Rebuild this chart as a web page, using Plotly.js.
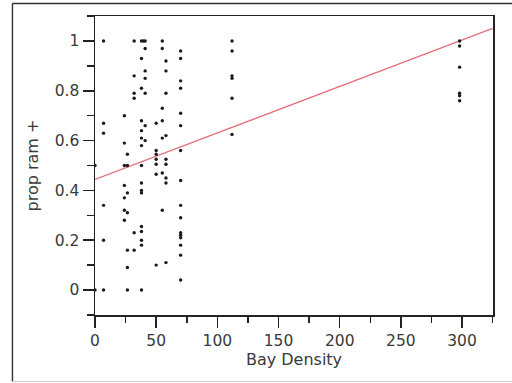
<!DOCTYPE html>
<html>
<head>
<meta charset="utf-8">
<script src="https://cdn.plot.ly/plotly-3.0.1.min.js"></script>
<style>
  html, body { margin: 0; padding: 0; background: #fff; }
  #chart { width: 512px; height: 383px; }
</style>
</head>
<body>
<div id="chart"></div>
<script>
// Observations: Bay Density (x) and proportion ram + (y)
const bayDensity = [
  0, 0,
  7, 7, 7, 7, 7, 7,
  24, 24, 24, 24, 24, 24, 24,
  26.5, 26.5, 26.5, 26.5, 26.5, 26.5, 26.5,
  32, 32, 32, 32, 32, 32,
  38, 38, 38, 38, 38, 38, 38, 38, 38, 38, 38, 38, 38, 38, 38, 38,
  39.5,
  41, 41, 41, 41, 41, 41, 41,
  50, 50, 50, 50, 50, 50, 50,
  55, 55, 55, 55, 55, 55, 55,
  58, 58, 58, 58, 58, 58, 58, 58, 58,
  70, 70, 70, 70, 70, 70, 70, 70, 70, 70, 70, 70, 70, 70, 70, 70,
  112, 112, 112, 112, 112, 112,
  298, 298, 298, 298, 298, 298
];
const propRam = [
  0.5, 0,
  1.0, 0.67, 0.63, 0.34, 0.20, 0,
  0.70, 0.59, 0.50, 0.42, 0.37, 0.32, 0.28,
  0.545, 0.50, 0.39, 0.31, 0.16, 0.09, 0,
  1.0, 0.86, 0.79, 0.77, 0.23, 0.16,
  1.0, 0.93, 0.81, 0.68, 0.64, 0.61, 0.58, 0.50, 0.43, 0.40, 0.39, 0.255, 0.235, 0.20, 0.18, 0,
  1.0,
  1.0, 0.97, 0.88, 0.85, 0.79, 0.66, 0.60,
  0.67, 0.56, 0.545, 0.525, 0.505, 0.465, 0.10,
  1.0, 0.97, 0.73, 0.68, 0.61, 0.47, 0.32,
  0.92, 0.88, 0.79, 0.62, 0.525, 0.505, 0.45, 0.43, 0.11,
  0.96, 0.93, 0.84, 0.81, 0.71, 0.66, 0.56, 0.44, 0.34, 0.29, 0.23, 0.22, 0.21, 0.18, 0.14, 0.04,
  1.0, 0.96, 0.86, 0.85, 0.77, 0.625,
  1.0, 0.98, 0.895, 0.79, 0.78, 0.76
];
// Fitted line endpoints
const fitX = [0, 325];
const fitY = [0.444, 1.051];

const xTitle = 'Bay Density';
const yTitle = 'prop ram +';

const fontFamily = '"DejaVu Sans", "Liberation Sans", Arial, sans-serif';
const axisColor = '#222';

const traces = [
  {
    x: fitX, y: fitY, type: 'scatter', mode: 'lines',
    line: { color: '#e4707c', width: 1.4 },
    hoverinfo: 'skip', showlegend: false
  },
  {
    x: bayDensity, y: propRam, type: 'scatter', mode: 'markers',
    marker: { color: '#1a1a1a', size: 3.4, symbol: 'circle' },
    showlegend: false
  }
];

const commonAxis = {
  showline: true, linecolor: axisColor, linewidth: 1.5, mirror: true,
  showgrid: false, zeroline: false,
  ticks: 'outside', ticklen: 11, tickwidth: 1.5, tickcolor: axisColor,
  tickfont: { family: fontFamily, size: 15.5, color: '#3a3a3a' },
  fixedrange: true
};

const layout = {
  width: 512, height: 383,
  margin: { l: 95, r: 19, t: 16, b: 68 },
  paper_bgcolor: '#fff', plot_bgcolor: '#fff',
  font: { family: fontFamily, color: '#3a3a3a' },
  xaxis: Object.assign({}, commonAxis, {
    range: [0, 325.3],
    tick0: 0, dtick: 50,
    minor: { dtick: 25, ticklen: 6, tickwidth: 1.5, tickcolor: axisColor, ticks: 'outside' },
    title: { text: xTitle, font: { family: fontFamily, size: 16, color: '#3a3a3a' }, standoff: 4 }
  }),
  yaxis: Object.assign({}, commonAxis, {
    range: [-0.1005, 1.1005],
    tick0: 0, dtick: 0.2,
    minor: { dtick: 0.1, ticklen: 7, tickwidth: 1.5, tickcolor: axisColor, ticks: 'outside' },
    title: { text: yTitle, font: { family: fontFamily, size: 16, color: '#3a3a3a' }, standoff: 12 }
  }),
  shapes: [
    { type: 'line', xref: 'paper', yref: 'paper', x0: -0.2074, x1: -0.2074, y0: 1.0418, y1: -0.2224,
      line: { color: '#333', width: 1.4 } },
    { type: 'line', xref: 'paper', yref: 'paper', x0: -0.2074, x1: 1.07, y0: 1.0418, y1: 1.0418,
      line: { color: '#333', width: 1.4 } },
    { type: 'line', xref: 'paper', yref: 'paper', x0: -0.2074, x1: 1.07, y0: -0.2224, y1: -0.2224,
      line: { color: '#d0d0d0', width: 1 } }
  ],
  showlegend: false
};

Plotly.newPlot('chart', traces, layout, { staticPlot: true, displayModeBar: false });
</script>
</body>
</html>
